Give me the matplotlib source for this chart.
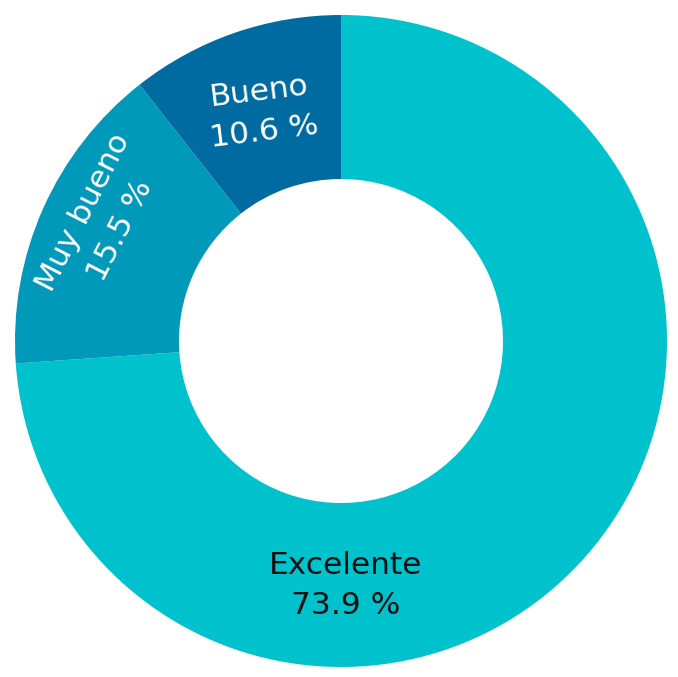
import matplotlib
matplotlib.use("Agg")
import matplotlib.pyplot as plt
import numpy as np

categories = ["Excelente", "Muy bueno", "Bueno"]
values = [73.9, 15.5, 10.6]
labels = ["Excelente\n73.9 %", "Muy bueno\n15.5 %", "Bueno\n10.6 %"]
colors = ["#00C2CC", "#0099BA", "#006BA1"]
text_colors = ["#111111", "white", "white"]

plt.rcParams['font.family'] = ['DejaVu Sans']

fig = plt.figure(figsize=(6.78, 6.77), dpi=100)
ax = fig.add_axes([15/678, 10/677, 652/678, 652/677])
wedges, _ = ax.pie(values, colors=colors, startangle=90, counterclock=False,
                   radius=1.0, wedgeprops=dict(width=0.503, edgecolor='none'))
ax.set_xlim(-1, 1)
ax.set_ylim(-1, 1)
ax.set_aspect('equal')
ax.axis('off')

# label placement: (angle deg, radius, rotation)
placements = [(271, 0.75, 0), (153.5, 0.82, 63), (109, 0.745, 7)]
for lab, tc, (ang, r, rot) in zip(labels, text_colors, placements):
    a = np.deg2rad(ang)
    ax.text(r*np.cos(a), r*np.sin(a), lab, ha='center', va='center',
            rotation=rot, rotation_mode='anchor', color=tc, fontsize=22.5,
            linespacing=1.5, multialignment='center')

fig.savefig("out.png", dpi=100)
